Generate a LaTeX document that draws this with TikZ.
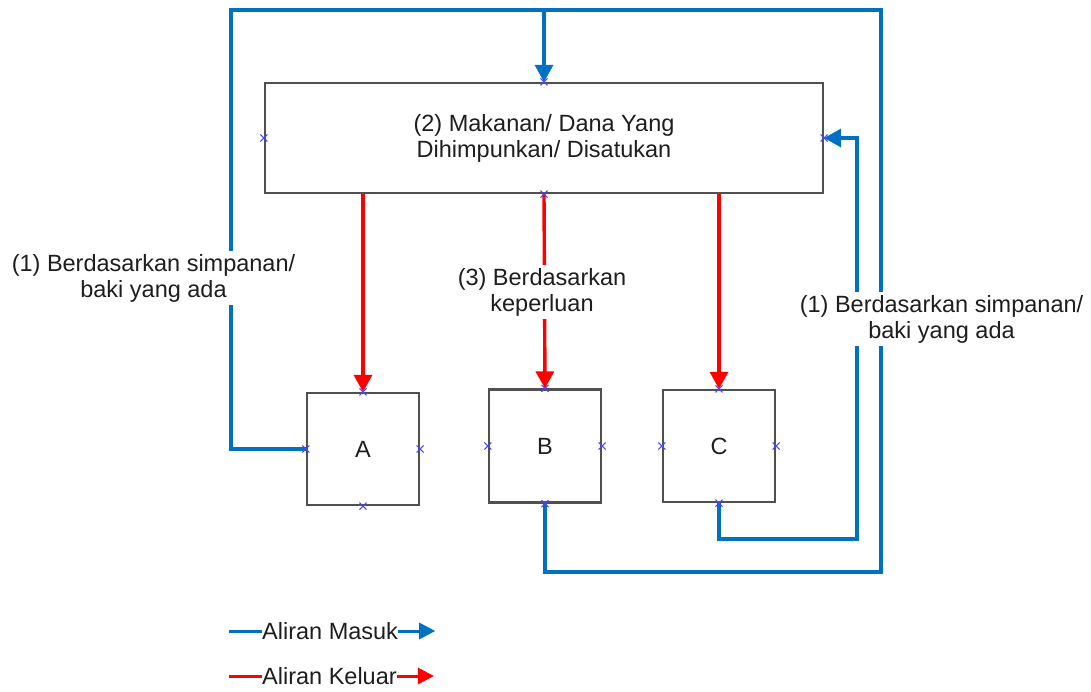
\documentclass[tikz,border=0pt]{standalone}
\usepackage{fontspec}
\setmainfont{Liberation Sans}
\usetikzlibrary{arrows.meta}
\definecolor{flowblue}{RGB}{0,112,192}
\definecolor{boxgray}{RGB}{80,80,80}
\definecolor{markblue}{RGB}{70,70,255}
\definecolor{txt}{RGB}{30,30,30}
\begin{document}
\begin{tikzpicture}[x=1pt,y=-1pt,
  every node/.style={font=\fontsize{23.5}{26}\selectfont,text=txt},
  boxnode/.style={draw=boxgray,line width=2.2pt,fill=white,inner sep=0pt},
  inflow/.style={draw=flowblue,line width=3.4pt},
  outflow/.style={draw=red,line width=3.4pt},
  tip/.style={-{Triangle[width=18pt,length=17pt]}},
  lbl/.style={fill=white,align=center,inner sep=3pt},
  xm/.pic={\draw[markblue,line width=1.1pt] (-3.5,-3.5)--(3.5,3.5) (-3.5,3.5)--(3.5,-3.5);}
]
\useasboundingbox (0,0) rectangle (1091,691);

% boxes
\node[boxnode,minimum width=558pt,minimum height=110pt,align=center] (main) at (544,138)
  {(2) Makanan/ Dana Yang\\Dihimpunkan/ Disatukan};
\node[boxnode,minimum width=112pt,minimum height=112pt] (A) at (363,449) {A};
\node[boxnode,minimum width=112pt,minimum height=113pt] (B) at (545,446) {B};
\node[boxnode,minimum width=112pt,minimum height=112pt] (C) at (719,446) {C};

% corner coordinates
\coordinate (tl) at (231,10);
\coordinate (tr) at (881,10);
\coordinate (br) at (881,572);
\coordinate (cr) at (857,539);

% inflow connectors
\draw[inflow] (B.south) |- (br) -- (tr) -- (tl |- tr);
\draw[inflow,tip] (A.west) -| (tl) -| (main.north);
\draw[inflow,tip] (C.south) |- (cr) |- (main.east);

% outflow connectors
\draw[outflow,tip] (main.south -| A.north) -- (A.north);
\draw[outflow,tip] (main.south) -- (B.north);
\draw[outflow,tip] (main.south -| C.north) -- (C.north);

% labels
\node[lbl] (l1) at (153.5,278) {(1) Berdasarkan simpanan/\\baki yang ada};
\node[lbl] (l3) at (542,292) {(3) Berdasarkan\\keperluan};
\node[lbl] (l2) at (941.5,319) {(1) Berdasarkan simpanan/\\baki yang ada};

% connection markers
\foreach \n in {main,A,B,C}{
  \foreach \a in {north,south,east,west}{
    \pic at (\n.\a) {xm};
  }
}

% legend
\node[anchor=west,inner sep=0pt] (lm) at (262,631) {Aliran Masuk};
\draw[draw=flowblue,line width=3pt] (lm.west) -- ++(-33,0);
\draw[draw=flowblue,line width=3pt,-{Triangle[width=16pt,length=16pt]}] (lm.east) -- ++(37,0);
\node[anchor=west,inner sep=0pt] (lk) at (262,676) {Aliran Keluar};
\draw[draw=red,line width=3pt] (lk.west) -- ++(-33,0);
\draw[draw=red,line width=3pt,-{Triangle[width=16pt,length=16pt]}] (lk.east) -- ++(37,0);
\end{tikzpicture}
\end{document}
